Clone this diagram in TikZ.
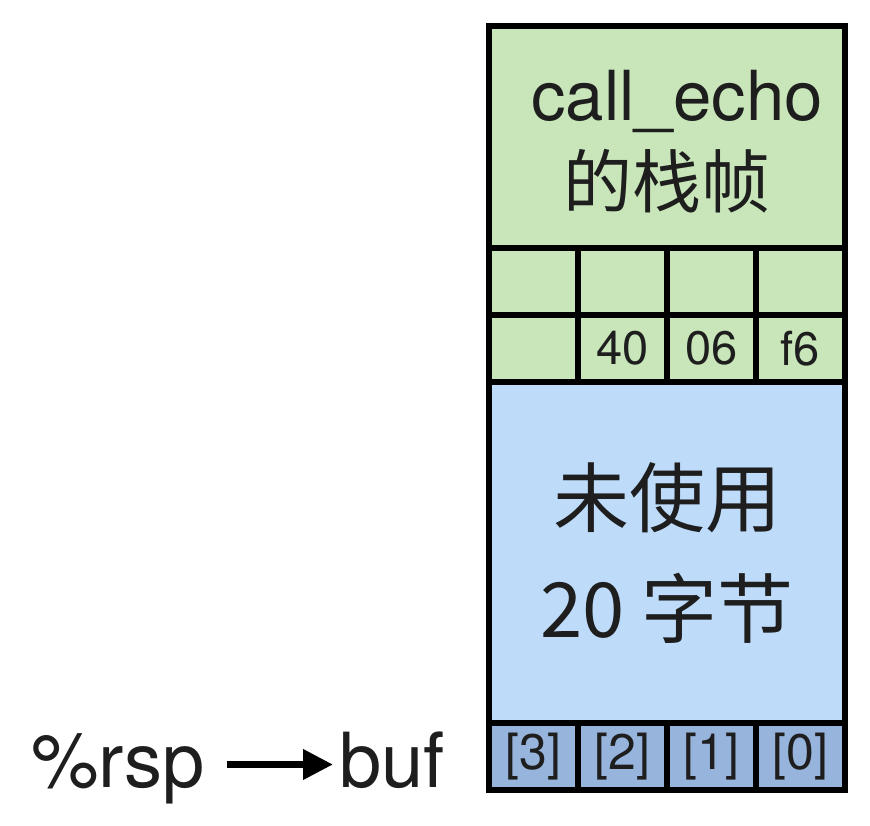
\documentclass[tikz,border=0pt]{standalone}
\usepackage{fontspec}
\setmainfont{TeX Gyre Heros}
\newfontfamily\cjk{Noto Sans CJK SC}
\usetikzlibrary{arrows.meta,positioning}
\definecolor{framegreen}{HTML}{C8E6B9}
\definecolor{unusedblue}{HTML}{BEDCFA}
\definecolor{bufblue}{HTML}{96B4DC}
\definecolor{ink}{HTML}{1E1E1E}
\tikzset{
    %Define standard arrow tip
    >={Triangle[length=30pt,width=29pt]},
    %Define style for stack cells
    cell/.style={
      rectangle,
      draw=black, line width=5.5pt,
      inner sep=0pt, outer sep=0pt,
      text=ink,
      anchor=north west},
    % Define style for single bytes
    byte/.style={
      cell,
      fill=framegreen,
      minimum width=89pt,
      minimum height=67pt,
      font=\fontsize{47}{47}\selectfont},
    % Define style for bytes of buf
    bufbyte/.style={
      byte,
      fill=bufblue,
      font=\fontsize{50}{50}\selectfont},
    % Define style for register labels
    reg/.style={
      inner sep=0pt, outer sep=0pt,
      text=ink,
      text height=55pt, text depth=10pt,
      font=\fontsize{76}{76}\selectfont},
    % Define arrow style
    arr/.style={
      ->,
      line width=7pt,
      shorten <=22pt,
      shorten >=6pt,}
}
\begin{document}
\begin{tikzpicture}[x=1pt, y=-1pt]
    \useasboundingbox (0,0) rectangle (870,825);

    \node[cell, fill=framegreen, minimum width=356pt, minimum height=222pt,
      align=center, font=\fontsize{69}{87}\selectfont] (frame) at (489,26)
      {\rule{0pt}{60pt}\hspace{20pt}call\_echo\\{\cjk 的栈帧}};

    \node[byte, below right=0pt and 0pt of frame.south west] (hi3) {};
    \node[byte, right=0pt of hi3] (hi2) {};
    \node[byte, right=0pt of hi2] (hi1) {};
    \node[byte, right=0pt of hi1] (hi0) {};

    \node[byte, below=0pt of hi3] (ret3) {};
    \node[byte, right=0pt of ret3] (ret2) {40};
    \node[byte, right=0pt of ret2] (ret1) {06};
    \node[byte, right=0pt of ret1] (ret0) {f6};

    \node[cell, fill=unusedblue, minimum width=356pt, minimum height=341pt,
      align=center, font=\cjk\fontsize{76}{111}\selectfont,
      below right=0pt and 0pt of ret3.south west] (unused)
      {未使用\\20 字节};

    \node[bufbyte, below right=0pt and 0pt of unused.south west] (buf3)
      {\raisebox{-6pt}{[3]}};
    \node[bufbyte, right=0pt of buf3] (buf2) {\raisebox{-6pt}{[2]}};
    \node[bufbyte, right=0pt of buf2] (buf1) {\raisebox{-6pt}{[1]}};
    \node[bufbyte, right=0pt of buf1] (buf0) {\raisebox{-6pt}{[0]}};

    \node[reg, anchor=base west] (rsp) at (31,787) {\%rsp};
    \node[reg, anchor=base west] (buf) at (339,787) {buf};
    \draw[arr] (rsp) -- (buf);
\end{tikzpicture}
\end{document}
